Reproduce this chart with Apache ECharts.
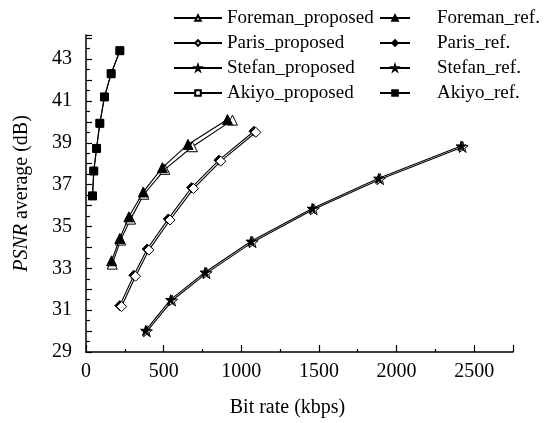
<!DOCTYPE html>
<html>
<head>
<meta charset="utf-8">
<script src="https://cdn.jsdelivr.net/npm/echarts@6/dist/echarts.min.js"></script>
<style>
html,body{margin:0;padding:0;background:#fff;}
#chart{width:545px;height:423px;}
</style>
</head>
<body>
<div id="chart"></div>
<script>
// Data (bit rate kbps, PSNR dB)
const foremanProposed = [[169,33.20],[223,34.35],[287,35.35],[373,36.54],[508,37.73],[685,38.81],[943,40.08]];
const foremanRef      = [[165,33.36],[218,34.43],[276,35.46],[369,36.65],[492,37.81],[657,38.92],[911,40.11]];
const parisProposed   = [[229,31.17],[319,32.62],[405,33.87],[541,35.31],[692,36.81],[868,38.12],[1094,39.50]];
const parisRef        = [[218,31.22],[308,32.67],[394,33.92],[530,35.36],[680,36.86],[856,38.17],[1082,39.55]];
const stefanProposed  = [[392,29.99],[555,31.46],[777,32.77],[1073,34.25],[1467,35.82],[1895,37.26],[2426,38.80]];
const stefanRef       = [[384,30.03],[545,31.50],[767,32.81],[1063,34.29],[1457,35.86],[1885,37.30],[2416,38.84]];
const akiyoProposed   = [[42,36.46],[50,37.65],[68,38.73],[89,39.93],[119,41.19],[162,42.30],[218,43.40]];
const akiyoRef        = [[42,36.46],[50,37.65],[68,38.73],[89,39.93],[119,41.19],[162,42.30],[218,43.40]];
const leftLegendNames  = ['Foreman_proposed','Paris_proposed','Stefan_proposed','Akiyo_proposed'];
const rightLegendNames = ['Foreman_ref.','Paris_ref.','Stefan_ref.','Akiyo_ref.'];
const xTicks = [0,500,1000,1500,2000,2500];
const yTickLabels = [29,31,33,35,37,39,41,43];

const STAR = 'path://M50,0 L61.2,34.5 L97.6,34.5 L68.2,55.9 L79.4,90.5 L50,69.1 L20.6,90.5 L31.8,55.9 L2.4,34.5 L38.8,34.5 Z';
const FONT = 'Liberation Serif';

function mk(name, data, symbol, size, filled, z) {
  return {
    name: name, type: 'line', data: data, symbol: symbol, symbolSize: size,
    showAllSymbol: true, z: z,
    lineStyle: {color: '#000', width: 1.1},
    itemStyle: {color: filled ? '#000' : '#fff', borderColor: '#000', borderWidth: 1},
    emphasis: {disabled: true}, animation: false
  };
}

const chart = echarts.init(document.getElementById('chart'), null, {renderer: 'canvas'});
const legendBase = {
  orient: 'vertical', selectedMode: false, itemHeight: 7,
  itemGap: 5,
  textStyle: {fontFamily: FONT, fontSize: 19, color: '#000', lineHeight: 20}
};
chart.setOption({
  animation: false,
  backgroundColor: '#fff',
  grid: {left: 86, right: 32, top: 35, bottom: 70},
  legend: [
    Object.assign({}, legendBase, {data: leftLegendNames, left: 168, top: 3, itemWidth: 48}),
    Object.assign({}, legendBase, {data: rightLegendNames, left: 374, top: 3, itemWidth: 30,
      textStyle: Object.assign({}, legendBase.textStyle, {padding: [0,0,0,22]})})
  ],
  xAxis: {
    type: 'value', min: 0, max: 2750, interval: 500,
    name: 'Bit rate (kbps)', nameLocation: 'middle', nameGap: 46,
    nameTextStyle: {fontFamily: FONT, fontSize: 20, color: '#000', padding: [0,24,0,0]},
    axisLine: {show: true, onZero: false, lineStyle: {color: '#000', width: 1.5}},
    axisTick: {show: true, inside: true, length: 7, lineStyle: {color: '#000', width: 1.2}},
    minorTick: {show: true, splitNumber: 2, length: 3, lineStyle: {color: '#000', width: 1.2}},
    axisLabel: {fontFamily: FONT, fontSize: 20, color: '#000', margin: 10, showMaxLabel: false,
      formatter: v => xTicks.indexOf(v) >= 0 ? String(v) : ''},
    splitLine: {show: false}
  },
  yAxis: {
    type: 'value', min: 29, max: 44.15, interval: 1,
    name: '{i|PSNR} average (dB)', nameLocation: 'middle', nameGap: 54,
    nameTextStyle: {fontFamily: FONT, fontSize: 20, color: '#000',
      rich: {i: {fontFamily: FONT, fontSize: 20, fontStyle: 'italic', color: '#000'}}},
    axisLine: {show: true, onZero: false, lineStyle: {color: '#000', width: 1.5}},
    axisTick: {show: true, inside: true, length: 6, lineStyle: {color: '#000', width: 1.2}},
    minorTick: {show: true, splitNumber: 2, length: 4, lineStyle: {color: '#000', width: 1.2}},
    axisLabel: {fontFamily: FONT, fontSize: 20, color: '#000', margin: 14, showMaxLabel: false,
      formatter: v => yTickLabels.indexOf(v) >= 0 ? String(v) : ''},
    splitLine: {show: false}
  },
  series: [
    mk('Paris_ref.', parisRef, 'diamond', 10, true, 2),
    mk('Paris_proposed', parisProposed, 'diamond', 10, false, 3),
    mk('Foreman_proposed', foremanProposed, 'triangle', 10, false, 2),
    mk('Foreman_ref.', foremanRef, 'triangle', 10, true, 3),
    mk('Stefan_proposed', stefanProposed, STAR, 11, false, 2),
    mk('Stefan_ref.', stefanRef, STAR, 10, true, 3),
    mk('Akiyo_proposed', akiyoProposed, 'rect', 7, false, 2),
    mk('Akiyo_ref.', akiyoRef, 'rect', 8, true, 3)
  ]
});
</script>
</body>
</html>
